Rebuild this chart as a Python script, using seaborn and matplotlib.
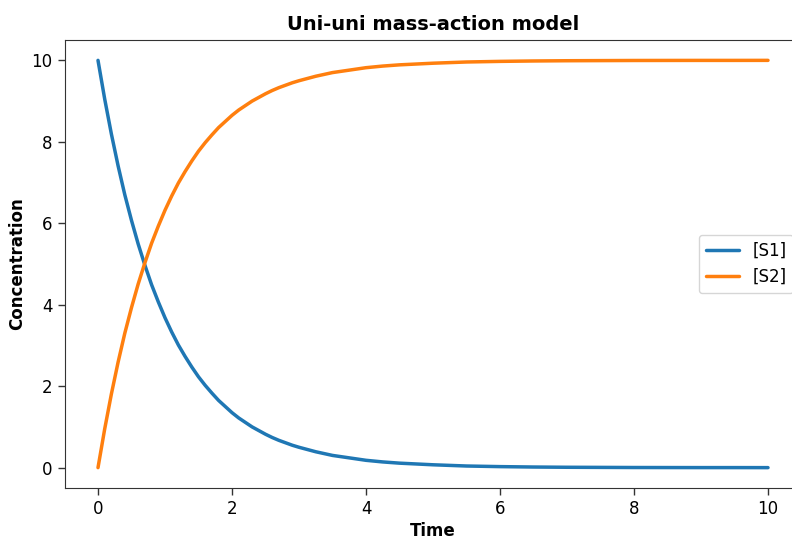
import matplotlib
matplotlib.use("Agg")
import matplotlib.pyplot as plt
import seaborn as sns
import pandas as pd

time = [0.0, 0.1, 0.2, 0.3, 0.4, 0.5, 0.6, 0.7, 0.8, 0.9, 1.0, 1.1, 1.2, 1.3, 1.4,
        1.5, 1.6, 1.7, 1.8, 1.9, 2.0, 2.1, 2.2, 2.3, 2.4, 2.5, 2.6, 2.7, 2.8, 2.9,
        3.0, 3.25, 3.5, 3.75, 4.0, 4.25, 4.5, 4.75, 5.0, 5.5, 6.0, 6.5, 7.0, 7.5,
        8.0, 8.5, 9.0, 9.5, 10.0]
s1 = [10.00, 9.05, 8.19, 7.41, 6.70, 6.07, 5.49, 4.97, 4.49, 4.07, 3.68, 3.33, 3.01,
      2.73, 2.47, 2.23, 2.02, 1.83, 1.65, 1.50, 1.35, 1.22, 1.11, 1.00, 0.91, 0.82,
      0.74, 0.67, 0.61, 0.55, 0.50, 0.39, 0.30, 0.24, 0.18, 0.14, 0.11, 0.09, 0.07,
      0.04, 0.025, 0.015, 0.009, 0.006, 0.003, 0.002, 0.001, 0.001, 0.000]
s2 = [0.00, 0.95, 1.81, 2.59, 3.30, 3.93, 4.51, 5.03, 5.51, 5.93, 6.32, 6.67, 6.99,
      7.27, 7.53, 7.77, 7.98, 8.17, 8.35, 8.50, 8.65, 8.78, 8.89, 9.00, 9.09, 9.18,
      9.26, 9.33, 9.39, 9.45, 9.50, 9.61, 9.70, 9.76, 9.82, 9.86, 9.89, 9.91, 9.93,
      9.96, 9.975, 9.985, 9.991, 9.994, 9.997, 9.998, 9.999, 9.999, 10.000]
series_names = ["[S1]", "[S2]"]

df = pd.DataFrame({"Time": time * 2,
                   "Concentration": s1 + s2,
                   "Species": [series_names[0]] * len(time) + [series_names[1]] * len(time)})

sns.set_style("ticks", {"axes.edgecolor": ".2", "text.color": "black",
                        "axes.labelcolor": "black", "xtick.color": ".2",
                        "ytick.color": ".2"})
plt.rcParams["font.family"] = ["DejaVu Sans"]

fig = plt.figure(figsize=(7.92, 5.36), dpi=100)
ax = fig.add_axes([64.5 / 792, 1 - 488 / 536, 737 / 792, 448 / 536])
sns.lineplot(data=df, x="Time", y="Concentration", hue="Species",
             palette=["#1f77b4", "#ff7f0e"], linewidth=2.5, ax=ax)
ax.set_xlim(-0.5, 10.5)
ax.set_ylim(-0.5, 10.5)
ax.set_xticks([0, 2, 4, 6, 8, 10])
ax.set_yticks([0, 2, 4, 6, 8, 10])
ax.tick_params(labelsize=12, length=5, width=1, color=".2", labelcolor="black")
ax.set_xlabel("Time", fontsize=12, fontweight="bold", labelpad=3)
ax.set_ylabel("Concentration", fontsize=12, fontweight="bold")
ax.set_title("Uni-uni mass-action model", fontsize=14, fontweight="bold", pad=7.5)
ax.legend(loc="center right", fontsize=12, title=None)
fig.savefig("out.png", dpi=100)
